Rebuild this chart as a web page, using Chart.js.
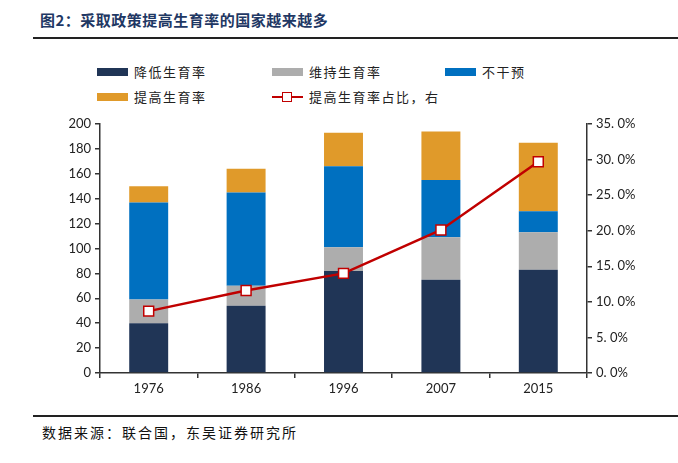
<!DOCTYPE html>
<html lang="zh-CN">
<head>
<meta charset="UTF-8">
<title>图2</title>
<script src="https://cdn.jsdelivr.net/npm/chart.js"></script>
<style>
    body { margin: 0; background: #fff; font-family: "Noto Sans CJK SC", sans-serif; }
    .page { position: relative; width: 678px; height: 463px; overflow: hidden; }
    .titulo { position: absolute; left: 40px; top: 9px; font-size: 15px; font-weight: bold; color: #1F3864; letter-spacing: 0.5px; }
    .linha-topo { position: absolute; left: 33px; right: 0; top: 37px; height: 2px; background: #222; }
    .linha-base { position: absolute; left: 33px; right: 0; top: 415px; height: 1.5px; background: #222; }
    .fonte { position: absolute; left: 42px; top: 422px; font-size: 14px; color: #111; letter-spacing: 2px; }
    .legenda { position: absolute; left: 0; top: 60px; width: 678px; height: 50px; font-size: 13px; color: #222; letter-spacing: 1.5px; }
    .item { position: absolute; display: flex; align-items: center; }
    .caixa { width: 31px; height: 8px; margin-right: 6px; }
    .marca { position: relative; width: 31px; height: 12px; margin-right: 6px; }
    .marca .l { position: absolute; left: 0; right: 0; top: 5px; height: 2.5px; background: #C00000; }
    .marca .q { position: absolute; left: 10px; top: 1px; width: 8px; height: 8px; background: #fff; border: 1.5px solid #C00000; }
    #grafico { position: absolute; left: 0; top: 110px; }
</style>
</head>
<body>
<div class="page">
    <div class="titulo">图2：采取政策提高生育率的国家越来越多</div>
    <div class="linha-topo"></div>

    <div class="legenda">
        <div class="item" style="left:97px; top:2px"><div class="caixa" style="background:#203556"></div>降低生育率</div>
        <div class="item" style="left:272px; top:2px"><div class="caixa" style="background:#ADADAD"></div>维持生育率</div>
        <div class="item" style="left:445px; top:2px"><div class="caixa" style="background:#0070C0"></div>不干预</div>
        <div class="item" style="left:97px; top:27px"><div class="caixa" style="background:#E09A2A"></div>提高生育率</div>
        <div class="item" style="left:272px; top:27px"><div class="marca"><div class="l"></div><div class="q"></div></div>提高生育率占比，右</div>
    </div>

    <canvas id="grafico" width="678" height="285"></canvas>

    <div class="linha-base"></div>
    <div class="fonte">数据来源：联合国，东吴证券研究所</div>
</div>

<script>
    // dados
    var anos = ['1976', '1986', '1996', '2007', '2015'];
    var reduzir = [40, 54, 82, 75, 83];
    var manter = [19, 16, 19, 34, 30];
    var naoIntervir = [78, 75, 65, 46, 17];
    var aumentar = [13, 19, 27, 39, 55];
    var aumentarPct = [8.7, 11.6, 14.0, 20.1, 29.7];

    var corEixo = '#333';
    var fonteEixo = { family: 'Lato, "DejaVu Sans", sans-serif', size: 13 };

    function barra(label, dados, cor) {
        return {
            type: 'bar',
            label: label,
            data: dados,
            backgroundColor: cor,
            borderWidth: 0,
            stack: 'paises',
            yAxisID: 'y',
            barPercentage: 0.4,
            categoryPercentage: 1,
            order: 2
        };
    }

    const config = {
        data: {
            labels: anos,
            datasets: [
                {
                    type: 'line',
                    label: '提高生育率占比，右',
                    data: aumentarPct,
                    yAxisID: 'y1',
                    borderColor: '#C00000',
                    borderWidth: 2.5,
                    pointStyle: 'rect',
                    pointRadius: 7,
                    pointBackgroundColor: '#fff',
                    pointBorderColor: '#C00000',
                    pointBorderWidth: 1.5,
                    tension: 0,
                    order: 1
                },
                barra('降低生育率', reduzir, '#203556'),
                barra('维持生育率', manter, '#ADADAD'),
                barra('不干预', naoIntervir, '#0070C0'),
                barra('提高生育率', aumentar, '#E09A2A')
            ]
        },
        options: {
            responsive: false,
            animation: false,
            layout: { padding: { top: 14, left: 0, right: 0, bottom: 0 } },
            plugins: {
                legend: { display: false },
                tooltip: { enabled: false }
            },
            scales: {
                x: {
                    stacked: true,
                    offset: true,
                    border: { color: corEixo, width: 1.5 },
                    grid: { offset: true, drawOnChartArea: false, tickLength: 5, color: corEixo, lineWidth: 1.5 },
                    ticks: { color: '#222', font: fonteEixo, padding: 3 },
                    afterFit: function (scale) { scale.height = 22; }
                },
                y: {
                    stacked: true,
                    position: 'left',
                    min: 0,
                    max: 200,
                    border: { color: corEixo, width: 1.5 },
                    grid: { drawOnChartArea: false, tickLength: 5, color: corEixo, lineWidth: 1.5 },
                    ticks: { stepSize: 20, color: '#222', font: fonteEixo, padding: 4 },
                    afterFit: function (scale) { scale.width = 100; }
                },
                y1: {
                    position: 'right',
                    min: 0,
                    max: 35,
                    border: { color: corEixo, width: 1.5 },
                    grid: { drawOnChartArea: false, tickLength: 5, color: corEixo, lineWidth: 1.5 },
                    ticks: {
                        stepSize: 5,
                        color: '#222',
                        font: fonteEixo,
                        padding: 4,
                        callback: function (v) {
                            return v.toFixed(1).replace('.', '. ') + '%';
                        }
                    },
                    afterFit: function (scale) { scale.width = 91; }
                }
            }
        }
    };

    let myChart = new Chart(document.getElementById('grafico'), config);
</script>
</body>
</html>
